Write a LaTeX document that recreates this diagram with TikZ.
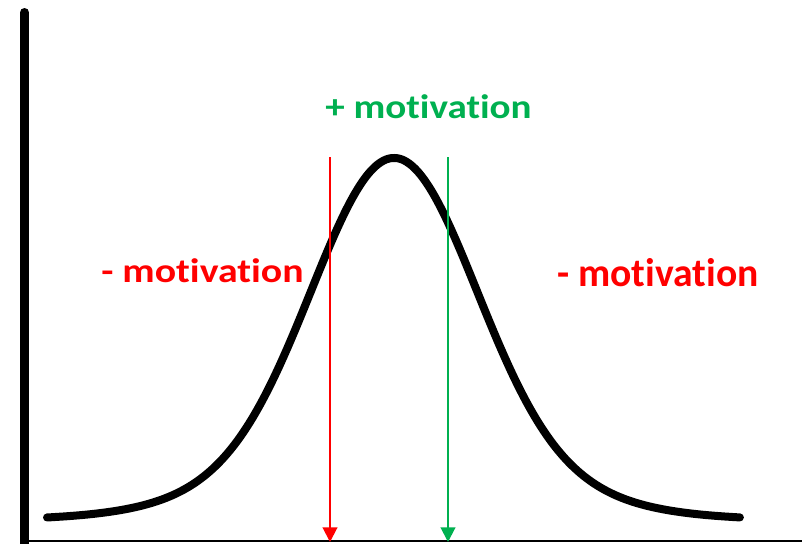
\documentclass[tikz,border=0pt]{standalone}
\usepackage{fontspec}
\setmainfont{Carlito}[Ligatures=CommonOff]
\usepackage{graphicx}
\usetikzlibrary{arrows.meta}
\definecolor{mred}{RGB}{255,0,0}
\definecolor{mgreen}{RGB}{0,176,80}
\tikzset{
  bellcurve/.style={line width=6pt, line cap=round, line join=round},
  yaxis/.style={line width=6.75pt, line cap=round},
  xaxis/.style={line width=1.9pt},
  marker/.style={line width=1.5pt, -{Triangle[width=11pt,length=11pt]}},
  lbl/.style={inner sep=0pt, anchor=base west, font=\bfseries}
}
\begin{document}
\begin{tikzpicture}[x=0.75pt,y=-0.75pt]
\useasboundingbox (0,0) rectangle (802,543);
% axes
\coordinate (ytop) at (24.5,12.5);
\coordinate (ybot) at (24.5,560);
\coordinate (xl) at (24.5,541);
\coordinate (xr) at (810,541);
\draw[yaxis] (ytop) -- (ybot);
\draw[xaxis] (xl) -- (xr);
% bell curve
\draw[bellcurve] plot[domain=-3.47:3.46, samples=240, smooth]
  ({394+100*\x}, {520-362*(0.8*exp(-\x*\x/1.28)+0.2*exp(-\x*\x/3.6))});
% markers
\coordinate (rtop) at (330,157);
\coordinate (rbot) at (330,542);
\coordinate (gtop) at (448,157);
\coordinate (gbot) at (448,542);
\draw[marker, mred] (rtop) -- (rbot);
\draw[marker, mgreen] (gtop) -- (gbot);
% labels
\node[lbl, text=mgreen] (plus) at (325,118) {\scalebox{1.15}[1]{\fontsize{25.5}{30}\selectfont + motivation}};
\node[lbl, text=mred] (lminus) at (101,282) {\scalebox{1.17}[1]{\fontsize{25.5}{30}\selectfont - motivation}};
\node[lbl, text=mred] (rminus) at (557,286) {\scalebox{0.99}[1]{\fontsize{30}{34}\selectfont - motivation}};
\end{tikzpicture}
\end{document}
